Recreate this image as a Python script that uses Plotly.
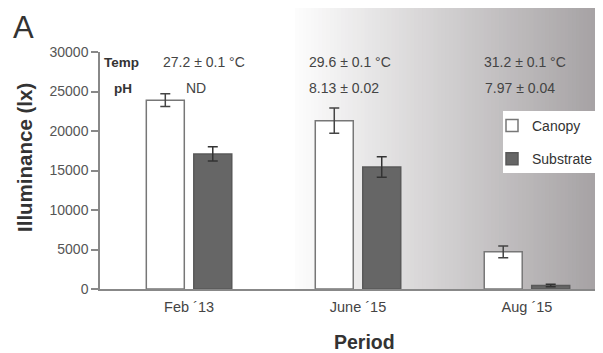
import plotly.graph_objects as go

periods = ["Feb \u00b413", "June \u00b415", "Aug \u00b415"]
canopy = [23900, 21300, 4700]
canopy_err = [800, 1600, 750]
substrate = [17100, 15450, 450]
substrate_err = [900, 1300, 150]
temp_labels = ["27.2 \u00b1 0.1 \u00b0C", "29.6 \u00b1 0.1 \u00b0C", "31.2 \u00b1 0.1 \u00b0C"]
ph_labels = ["ND", "8.13 \u00b1 0.02", "7.97 \u00b1 0.04"]
y_ticks = [0, 5000, 10000, 15000, 20000, 25000, 30000]

# the page body has an 8px margin; lay out in page pixels and shift
OX, OY = 8, 8
W, H = 603 - OX, 353 - OY
PL, PR, PT, PB = 100, 603, 52, 289  # plot area in page pixels
L, R, T, B = PL - OX, 603 - PR, PT - OY, 353 - PB
FONT = "Liberation Sans, Arial, sans-serif"


def px(x):
    return (x - PL) / (PR - PL)


def py(y):
    return (PB - y) / (PB - PT)


fig = go.Figure()
fig.add_trace(go.Bar(
    x=periods, y=canopy, name="Canopy", legendgroup="a",
    marker=dict(color="white", line=dict(color="#777777", width=1.5)),
    error_y=dict(type="data", array=canopy_err, color="#444444", thickness=1.5, width=5),
))
fig.add_trace(go.Bar(
    x=periods, y=substrate, name="Substrate", legendgroup="b",
    marker=dict(color="#666666", line=dict(color="#595959", width=1.5)),
    error_y=dict(type="data", array=substrate_err, color="#333333", thickness=1.5, width=5),
))

# background gradient (decorative)
shapes = []
x0, x1 = 295, 603
n = 80
for i in range(n):
    a = x0 + (x1 - x0) * i / n
    b = x0 + (x1 - x0) * (i + 1) / n
    f = (i + 0.5) / n
    r = int(round(253 - f * (253 - 164)))
    g = int(round(253 - f * (253 - 160)))
    bl = int(round(253 - f * (253 - 162)))
    shapes.append(dict(type="rect", xref="paper", yref="paper",
                       x0=px(a), x1=px(b) + 0.002, y0=py(289), y1=py(7),
                       fillcolor=f"rgb({r},{g},{bl})", line=dict(width=0), layer="below"))
# legend box
shapes.append(dict(type="rect", xref="paper", yref="paper", x0=px(503), x1=px(598),
                   y0=py(173), y1=py(111), fillcolor="white", line=dict(width=0), layer="below"))

annotations = [
    dict(text="A", x=px(11), y=py(8), xanchor="left", yanchor="top",
         font=dict(size=31, color="#333333", family=FONT)),
    dict(text="<b>Illuminance (lx)</b>", x=px(24), y=py(158), textangle=-90,
         xanchor="center", yanchor="middle", font=dict(size=20.5, color="#333333", family=FONT)),
    dict(text="<b>Period</b>", x=px(364), y=py(342), xanchor="center", yanchor="middle",
         font=dict(size=19.5, color="#333333", family=FONT)),
    dict(text="<b>Temp</b>", x=px(102), y=py(62), xanchor="left", yanchor="middle",
         font=dict(size=13.5, color="#333333", family=FONT)),
    dict(text="<b>pH</b>", x=px(112), y=py(88), xanchor="left", yanchor="middle",
         font=dict(size=13.5, color="#333333", family=FONT)),
]
temp_x = [161, 307, 482]
ph_x = [184, 307, 483]
for i in range(3):
    annotations.append(dict(text=temp_labels[i], x=px(temp_x[i]), y=py(62), xanchor="left",
                            yanchor="middle", font=dict(size=14, color="#444444", family=FONT)))
    annotations.append(dict(text=ph_labels[i], x=px(ph_x[i]), y=py(88), xanchor="left",
                            yanchor="middle", font=dict(size=14, color="#444444", family=FONT)))
for a in annotations:
    a.update(xref="paper", yref="paper", showarrow=False)

fig.update_layout(
    width=W, height=H,
    margin=dict(l=L, r=R, t=T, b=B, pad=0),
    paper_bgcolor="white", plot_bgcolor="rgba(0,0,0,0)",
    barmode="group", bargap=0.438, bargroupgap=0.2,
    shapes=shapes, annotations=annotations,
    showlegend=True,
    legend=dict(x=px(492), y=py(110), xanchor="left", yanchor="top",
                bgcolor="rgba(0,0,0,0)", borderwidth=0, traceorder="grouped", tracegroupgap=12,
                font=dict(size=14, color="#333333", family=FONT)),
    font=dict(family=FONT),
)
fig.update_xaxes(range=[-0.527, 2.45], showline=True, linecolor="#888888", linewidth=1.5,
                 ticks="", showgrid=False, zeroline=False, ticklabelstandoff=4,
                 tickfont=dict(size=14.5, color="#444444", family=FONT))
fig.update_yaxes(range=[0, 30000], tickvals=y_ticks, tickformat="d", showline=True,
                 linecolor="#888888", linewidth=1.5, ticks="outside", ticklen=7,
                 tickcolor="#888888", tickwidth=1.5, showgrid=False, zeroline=False,
                 tickfont=dict(size=14, color="#555555", family=FONT))

fig.write_html("out.html")
